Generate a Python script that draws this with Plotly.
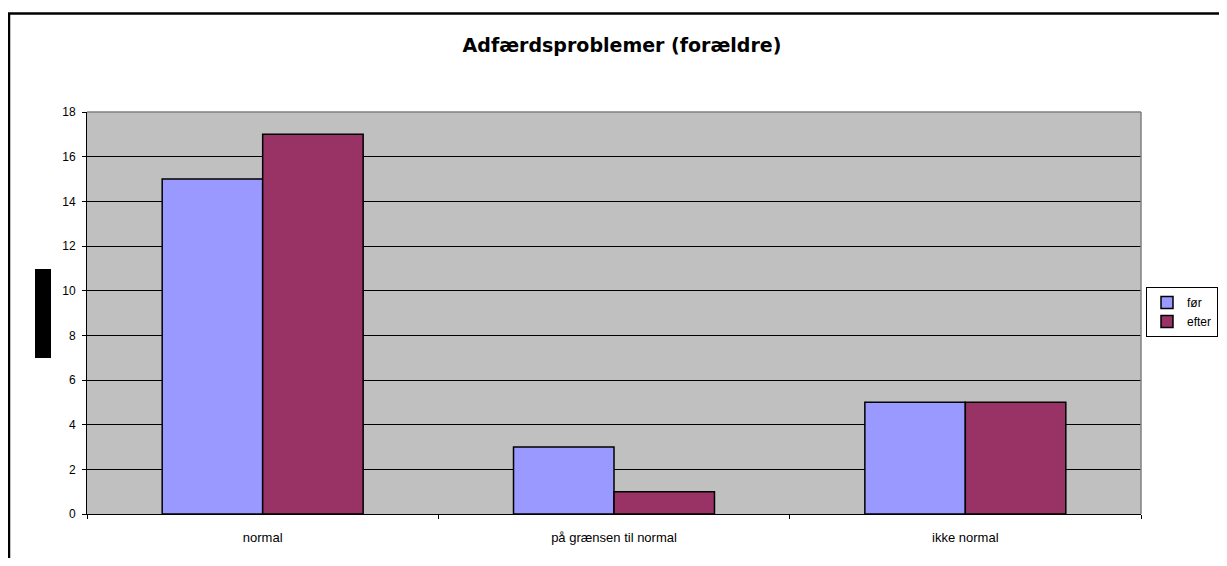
import plotly.graph_objects as go

categories = ["normal", "på grænsen til normal", "ikke normal"]
foer = [15, 3, 5]
efter = [17, 1, 5]
series_names = ["før", "efter"]
y_ticks = list(range(0, 19, 2))

# page body has an 8px margin, so the figure is drawn 8px in from the corner
OFF = 8
W_FIG, H_FIG = 1227 - 2 * OFF, 566 - 2 * OFF
# plot area in screen pixels: x 87..1141, y 112..514
L = 87 - OFF
T = 112 - OFF
R = W_FIG - (1141 - OFF)
B = H_FIG - (514 - OFF)
PW = W_FIG - L - R
PH = H_FIG - T - B


def px_x(x):
    return (x - OFF - L) / PW


def px_y(y):
    return (H_FIG - B - (y - OFF)) / PH


fig = go.Figure()
for name, vals, color in [(series_names[0], foer, "#9999FF"), (series_names[1], efter, "#993366")]:
    fig.add_trace(
        go.Bar(
            x=categories,
            y=vals,
            name=name,
            marker=dict(color=color, line=dict(color="black", width=1.5)),
        )
    )

fig.update_layout(
    width=W_FIG,
    height=H_FIG,
    margin=dict(l=L, r=R, t=T, b=B, autoexpand=False),
    paper_bgcolor="white",
    plot_bgcolor="#C0C0C0",
    barmode="group",
    bargap=0.428,
    bargroupgap=0,
    font=dict(family="Liberation Sans, Arial", size=13, color="black"),
    title=dict(
        text="<b>Adfærdsproblemer (forældre)</b>",
        font=dict(family="DejaVu Sans", size=19, color="black"),
        x=(622 - OFF) / W_FIG,
        xanchor="center",
        xref="container",
        y=1 - (45 - OFF) / H_FIG,
        yanchor="middle",
        yref="container",
    ),
    legend=dict(
        x=px_x(1218),
        y=px_y(287),
        xanchor="right",
        yanchor="top",
        bordercolor="black",
        borderwidth=1,
        bgcolor="white",
        font=dict(size=12),
        itemwidth=30,
    ),
    showlegend=True,
)

fig.update_xaxes(
    showline=True,
    linecolor="black",
    linewidth=1,
    ticks="outside",
    tickson="boundaries",
    ticklen=4,
    tickcolor="black",
    showgrid=False,
    ticklabelstandoff=11,
    tickfont=dict(size=13),
)
fig.update_yaxes(
    range=[0, 18],
    tickvals=y_ticks,
    showline=True,
    linecolor="black",
    linewidth=1,
    ticks="outside",
    ticklen=4,
    tickcolor="black",
    showgrid=True,
    gridcolor="black",
    gridwidth=1,
    zeroline=False,
    ticklabelstandoff=4,
    tickfont=dict(size=12),
)

# plot area border: grey on top and right
fig.add_shape(type="line", xref="paper", yref="paper", x0=0, x1=1, y0=1, y1=1,
              line=dict(color="#808080", width=1.5), layer="above")
fig.add_shape(type="line", xref="paper", yref="paper", x0=1, x1=1, y0=0, y1=1,
              line=dict(color="#808080", width=1.5), layer="above")

# redacted axis title block
fig.add_shape(type="rect", xref="paper", yref="paper",
              x0=px_x(35), x1=px_x(51), y0=px_y(358), y1=px_y(269),
              fillcolor="black", line=dict(width=0))

# chart frame (left and top)
fig.add_shape(type="line", xref="paper", yref="paper",
              x0=px_x(9), x1=px_x(9), y0=px_y(13), y1=px_y(580),
              line=dict(color="black", width=2.5))
fig.add_shape(type="line", xref="paper", yref="paper",
              x0=px_x(8), x1=px_x(1240), y0=px_y(13.5), y1=px_y(13.5),
              line=dict(color="black", width=2.5))

fig.write_html("out.html")
